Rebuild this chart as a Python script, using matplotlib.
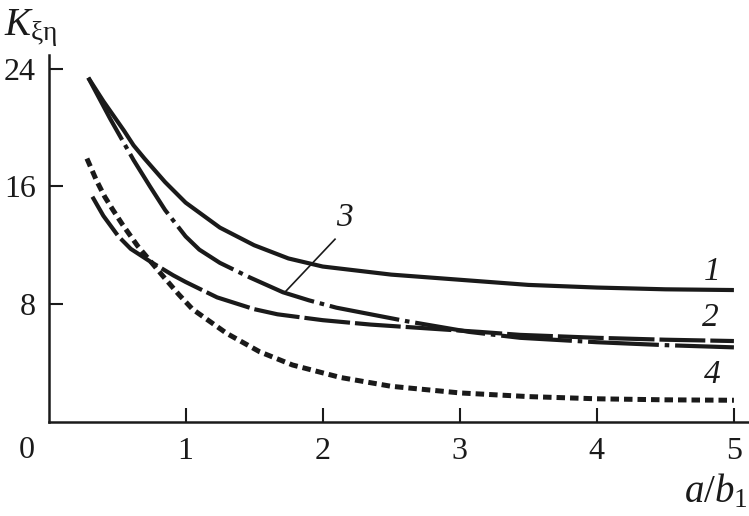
import matplotlib
matplotlib.use("Agg")
import matplotlib.pyplot as plt

plt.rcParams['font.family'] = ['Liberation Serif', 'DejaVu Serif']
plt.rcParams['mathtext.fontset'] = 'custom'
plt.rcParams['mathtext.rm'] = 'Liberation Serif'
plt.rcParams['mathtext.it'] = 'Liberation Serif:italic'

# ---- data ----
x1 = [0.29, 0.4, 0.55, 0.62, 0.7, 0.85, 1.0, 1.25, 1.5, 1.75, 2.0, 2.5, 3.0, 3.5, 4.0, 4.5, 5.0]
y1 = [23.4, 21.8, 19.8, 18.8, 17.9, 16.3, 14.9, 13.2, 12.0, 11.1, 10.55, 10.0, 9.65, 9.3, 9.12, 9.0, 8.95]

x2 = [0.32, 0.4, 0.51, 0.6, 0.74, 0.91, 1.0, 1.23, 1.5, 1.67, 2.0, 2.35, 2.7, 3.15, 3.44, 4.0, 4.5, 5.0]
y2 = [15.3, 14.0, 12.6, 11.75, 10.9, 9.95, 9.5, 8.45, 7.65, 7.3, 6.9, 6.6, 6.38, 6.1, 5.9, 5.7, 5.57, 5.48]

x3 = [0.29, 0.45, 0.62, 0.74, 0.85, 1.0, 1.1, 1.25, 1.47, 1.71, 1.9, 2.1, 2.6, 3.07, 3.44, 4.0, 4.5, 5.0]
y3 = [23.4, 20.6, 17.8, 16.0, 14.4, 12.6, 11.7, 10.8, 9.8, 8.8, 8.25, 7.75, 6.85, 6.1, 5.7, 5.4, 5.2, 5.05]

x4 = [0.28, 0.35, 0.41, 0.47, 0.54, 0.65, 0.74, 0.83, 0.95, 1.05, 1.3, 1.54, 1.78, 2.13, 2.5, 3.0, 3.5, 4.0, 4.5, 5.0]
y4 = [17.9, 16.4, 15.3, 14.4, 13.4, 11.95, 10.95, 9.95, 8.65, 7.65, 6.0, 4.75, 3.85, 3.0, 2.4, 1.95, 1.7, 1.55, 1.48, 1.45]

xticks = [1, 2, 3, 4, 5]
yticks = [8, 16, 24]
curve_labels = ['1', '2', '3', '4']

fig = plt.figure(figsize=(7.49, 5.16), dpi=100)
ax = fig.add_axes([0.0648, 0.183, 0.9352, 0.710])
ax.set_xlim(0, 5.11)
ax.set_ylim(0, 24.93)

c = '#1a1a1a'
ax.plot(x1, y1, color=c, lw=3.0, solid_capstyle='butt', solid_joinstyle='round')
ax.plot(x2, y2, color=c, lw=3.0, dashes=(11, 1.2), dash_capstyle='butt')
ax.plot(x3, y3, color=c, lw=3.0, dashes=(17, 1.4, 1.1, 1.4), dash_capstyle='butt')
ax.plot(x4, y4, color=c, lw=3.6, dashes=(1.7, 1.0), dash_capstyle='butt')

for s in ['top', 'right']:
    ax.spines[s].set_visible(False)
for s in ['left', 'bottom']:
    ax.spines[s].set_linewidth(1.8)
    ax.spines[s].set_color(c)

ax.set_xticks(xticks)
ax.set_xticklabels([str(v) for v in xticks])
ax.set_yticks(yticks)
ax.set_yticklabels([str(v) for v in yticks])
ax.tick_params(direction='in', length=10, width=1.5, color=c, labelsize=23, labelcolor=c)
ax.tick_params(axis='x', pad=11)
ax.tick_params(axis='y', pad=9)

fig.text(27 / 749, 1 - 451 / 516, '0', fontsize=23, ha='center', va='center', color=c)
fig.text(4 / 749, 1 - 28 / 516, r'$K_{\mathrm{ξη}}$', fontsize=28, ha='left', va='center', color=c)
fig.text(748 / 749, 1 - 492 / 516, r'$a/b_{\mathrm{1}}$', fontsize=28, ha='right', va='center', color=c)

lab_pos = [(4.84, 10.17), (4.83, 7.04), (2.155, 13.84), (4.84, 3.16)]
for t, (lx, ly) in zip(curve_labels, lab_pos):
    ax.text(lx, ly, t, fontsize=24, style='italic', ha='center', va='center', color=c)
ax.plot([2.09, 1.725], [12.41, 8.81], color=c, lw=1.2)

fig.savefig('out.png', dpi=100)
